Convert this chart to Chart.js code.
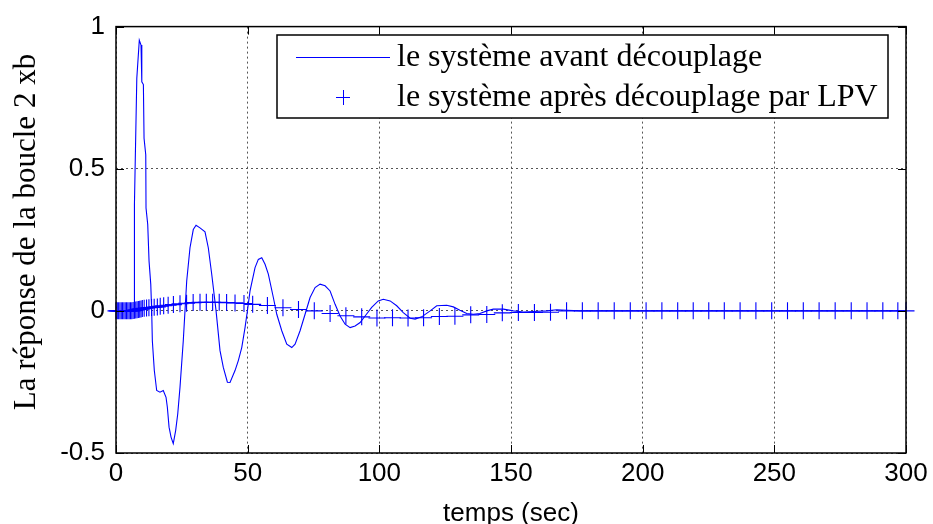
<!DOCTYPE html>
<html>
<head>
<meta charset="utf-8">
<script src="https://cdn.jsdelivr.net/npm/chart.js@4.4.1/dist/chart.umd.min.js"></script>
<style>
  html, body { margin: 0; padding: 0; background: #ffffff; }
  #wrap { width: 933px; height: 524px; position: relative; }
</style>
</head>
<body>
<div id="wrap"><canvas id="c" width="933" height="524"></canvas></div>
<script>
// ---- Data ----
const seriesLabels = ['le système avant découplage', 'le système après découplage par LPV'];
const xTitle = 'temps (sec)';
const yTitle = 'La réponse de la boucle 2 xb';

const xTickValues = [0, 50, 100, 150, 200, 250, 300];
const xTickLabels = ['0', '50', '100', '150', '200', '250', '300'];
const yTickValues = [-0.5, 0, 0.5, 1];
const yTickLabels = ['-0.5', '0', '0.5', '1'];

// Series 1: before decoupling (solid line)
const tAvant = [0, 6.9, 7.0, 7.9, 8.85, 9.5, 9.8, 10.4, 10.65, 11.3, 11.4, 12.05, 12.55, 13.2, 13.55, 13.8, 14.55, 15.45, 16.7, 17.95,
  19.0, 19.5, 20.15, 20.9, 21.75, 22.65, 23.45, 24.3, 25.55, 26.2, 26.85, 28.1, 29.35, 30.4, 31.9, 33.8, 35.05, 36.35, 38.0, 39.5,
  40.75, 42.3, 43.3, 45.2, 46.45, 47.75, 49.0, 49.9, 50.9, 52.8, 54.05, 55.35, 56.6, 57.85, 59.75, 61.05, 62.95, 64.85, 66.75, 68.0,
  69.9, 71.8, 73.7, 75.6, 77.5, 79.4, 81.3, 83.2, 85.1, 87.0, 88.9, 90.8, 92.7, 94.6, 97.1, 99.6, 101.5, 104.1, 106.6, 109.1,
  111.7, 113.6, 116.1, 119.3, 121.8, 125.6, 128.1, 130.6, 133.2, 135.7, 138.2, 140.8, 143.3, 147.1, 150.9, 154.7, 158.5, 163.6, 167.4, 171.2,
  176.2, 300];
const vAvant = [0, 0, 0.374, 0.818, 0.952, 0.935, 0.806, 0.796, 0.607, 0.549, 0.362, 0.304, 0.175, 0.094, 0, -0.105, -0.21, -0.28, -0.286, -0.28,
  -0.304, -0.339, -0.409, -0.444, -0.467, -0.421, -0.362, -0.269, -0.105, 0, 0.105, 0.222, 0.286, 0.301, 0.292, 0.278, 0.222, 0.129, 0, -0.14,
  -0.199, -0.251, -0.252, -0.21, -0.175, -0.129, -0.059, 0, 0.07, 0.152, 0.181, 0.187, 0.164, 0.129, 0.047, -0.012, -0.07, -0.117, -0.129, -0.117,
  -0.07, -0.012, 0.047, 0.082, 0.094, 0.088, 0.07, 0.023, -0.018, -0.047, -0.059, -0.053, -0.041, -0.018, 0.012, 0.035, 0.041, 0.035, 0.018, -0.006,
  -0.026, -0.029, -0.021, 0, 0.018, 0.02, 0.014, 0.002, -0.009, -0.012, -0.009, 0, 0.006, 0.006, 0, -0.004, -0.002, 0, 0.004, 0.002,
  0, 0];

// Series 2: after decoupling by LPV ('+' markers)
const tApres = [0, 0.5, 1, 1.5, 2, 2.5, 3, 3.5, 4, 4.5, 5, 5.5, 6, 6.5, 7, 7.5, 8, 8.5, 9, 9.5, 10,
  10.7, 11.6, 12.5, 13.5, 14.5, 15.7, 16.8, 18.1, 19.8, 21.8, 24.3, 26.8, 29.3, 31.9, 34.3, 36.7, 39.2, 42.0, 45.2, 48.6,
  51.9, 57.5, 63.4, 69.3, 75.3, 81.3, 87.3, 93.3, 99.1, 105.0, 110.9, 116.8, 122.8, 128.7, 134.7, 140.8, 146.7, 152.8, 158.9, 165.0,
  171.1, 177.1, 183.1, 189.2, 195.3, 201.3, 207.3, 213.3, 219.2, 225.1, 231.0, 237.0, 243.0, 249.0, 255.0, 261.0, 267.0, 273.1, 279.2, 285.2,
  291.2, 296.9, 300];
const vApres = [0, 0, 0, 0, 0, 0, 0, 0, 0, 0, 0, 0, 0, 0.001, 0.002, 0.003, 0.004, 0.005, 0.006, 0.007, 0.008,
  0.009, 0.010, 0.011, 0.012, 0.013, 0.014, 0.016, 0.018, 0.020, 0.022, 0.025, 0.027, 0.029, 0.030, 0.030, 0.030, 0.030, 0.029, 0.028, 0.026,
  0.023, 0.019, 0.011, 0.005, 0, -0.009, -0.017, -0.021, -0.025, -0.024, -0.025, -0.024, -0.020, -0.019, -0.014, -0.013, -0.007, -0.006, -0.006, -0.005,
  0, 0, 0, 0, 0, 0, 0, 0, 0, 0, 0, 0, 0, 0, 0, 0, 0, 0, 0, 0,
  0, 0, 0];

// ---- Chart ----
const BLUE = '#0000ff';

const framePlugin = {
  id: 'matlabFrame',
  afterDatasetsDraw(chart) {
    const { ctx, chartArea: a, scales } = chart;
    ctx.save();
    ctx.strokeStyle = '#000';
    ctx.lineWidth = 1;
    ctx.beginPath();
    const tl = 8;
    xTickValues.forEach(v => {
      const px = Math.round(scales.x.getPixelForValue(v)) + 0.5;
      ctx.moveTo(px, a.bottom); ctx.lineTo(px, a.bottom - tl);
      ctx.moveTo(px, a.top); ctx.lineTo(px, a.top + tl);
    });
    yTickValues.forEach(v => {
      const py = Math.round(scales.y.getPixelForValue(v)) + 0.5;
      ctx.moveTo(a.left, py); ctx.lineTo(a.left + tl, py);
      ctx.moveTo(a.right, py); ctx.lineTo(a.right - tl, py);
    });
    ctx.stroke();
    ctx.lineWidth = 1.5;
    ctx.strokeRect(a.left, a.top, a.right - a.left, a.bottom - a.top);
    ctx.restore();
  }
};

const boxLegendPlugin = {
  id: 'boxLegend',
  afterDraw(chart) {
    const ctx = chart.ctx;
    const box = { x: 277, y: 35, w: 611, h: 83 };
    ctx.save();
    ctx.fillStyle = '#ffffff';
    ctx.fillRect(box.x, box.y, box.w, box.h);
    ctx.strokeStyle = '#000';
    ctx.lineWidth = 1.5;
    ctx.strokeRect(box.x, box.y, box.w, box.h);
    // entry 1: line sample
    ctx.strokeStyle = BLUE;
    ctx.lineWidth = 1;
    ctx.beginPath();
    ctx.moveTo(296, 57.5); ctx.lineTo(390, 57.5);
    // entry 2: plus marker
    ctx.moveTo(336, 97.5); ctx.lineTo(350, 97.5);
    ctx.moveTo(343.5, 90); ctx.lineTo(343.5, 105);
    ctx.stroke();
    ctx.fillStyle = '#000';
    ctx.font = '32px "Liberation Serif", "Times New Roman", serif';
    ctx.textBaseline = 'alphabetic';
    ctx.textAlign = 'left';
    ctx.fillText(chart.data.datasets[0].label, 397, 66);
    ctx.fillText(chart.data.datasets[1].label, 397, 106);
    ctx.restore();
  }
};

const tickFont = { family: '"Liberation Sans", Arial, sans-serif', size: 26 };

new Chart(document.getElementById('c'), {
  type: 'scatter',
  data: {
    datasets: [
      {
        label: seriesLabels[0],
        data: tAvant.map((t, i) => ({ x: t, y: vAvant[i] })),
        showLine: true,
        borderColor: BLUE,
        backgroundColor: BLUE,
        borderWidth: 1.1,
        pointRadius: 0,
        tension: 0
      },
      {
        label: seriesLabels[1],
        data: tApres.map((t, i) => ({ x: t, y: vApres[i] })),
        showLine: false,
        pointStyle: 'cross',
        pointRadius: 8.5,
        pointBorderWidth: 1.1,
        pointBorderColor: BLUE,
        pointBackgroundColor: BLUE,
        borderColor: BLUE,
        clip: false
      }
    ]
  },
  options: {
    responsive: false,
    animation: false,
    devicePixelRatio: 1,
    layout: { padding: { top: 25, right: 27, left: 0, bottom: 0 } },
    plugins: {
      legend: { display: false },
      tooltip: { enabled: false }
    },
    scales: {
      x: {
        type: 'linear',
        min: 0, max: 300,
        afterBuildTicks: s => { s.ticks = xTickValues.map(v => ({ value: v })); },
        afterFit: s => { s.height = 71; },
        ticks: {
          color: '#000', font: tickFont, padding: 5, maxRotation: 0,
          callback: v => xTickLabels[xTickValues.indexOf(v)]
        },
        grid: { color: '#555', lineWidth: 1, drawTicks: false },
        border: { display: false, dash: [2, 3] },
        title: {
          display: true, text: xTitle, color: '#000',
          font: { family: '"Liberation Sans", Arial, sans-serif', size: 26, lineHeight: 0.77 },
          padding: { top: 0, bottom: 0 }
        }
      },
      y: {
        type: 'linear',
        min: -0.5, max: 1,
        afterBuildTicks: s => { s.ticks = yTickValues.map(v => ({ value: v })); },
        afterFit: s => { s.width = 116; },
        ticks: {
          color: '#000', font: tickFont, padding: 11,
          callback: v => yTickLabels[yTickValues.indexOf(v)]
        },
        grid: { color: '#555', lineWidth: 1, drawTicks: false },
        border: { display: false, dash: [2, 3] },
        title: {
          display: true, text: '\u00A0\u00A0' + yTitle, color: '#000',
          font: { family: '"Liberation Serif", "Times New Roman", serif', size: 31, lineHeight: 1 },
          padding: { top: 11, bottom: 0 }
        }
      }
    }
  },
  plugins: [framePlugin, boxLegendPlugin]
});
</script>
</body>
</html>
